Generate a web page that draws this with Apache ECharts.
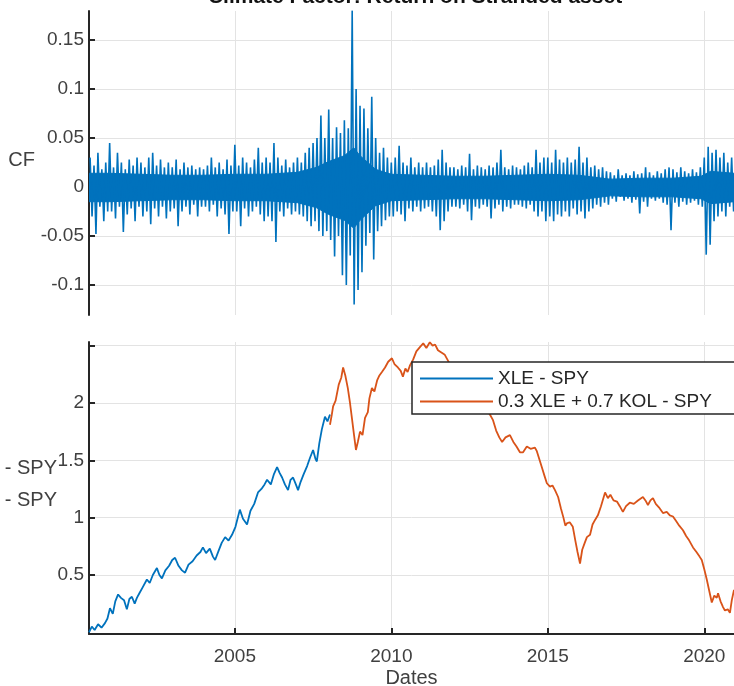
<!DOCTYPE html>
<html><head><meta charset="utf-8">
<script src="https://cdn.jsdelivr.net/npm/echarts@6/dist/echarts.min.js"></script>
<style>html,body{margin:0;padding:0;background:#fff}#c{width:734px;height:686px}</style>
</head><body><div id="c"></div>
<script>
// ---- Climate factor (CF) daily returns: high / low envelope per column ----
const cfStart = 2000.375;
const cfStep = 0.125;
const cfHigh = [
  0.03, 0.022, 0.035, 0.018, 0.025,
  0.045, 0.02, 0.035, 0.025, 0.018, 0.028, 0.022, 0.03,
  0.025, 0.02, 0.03, 0.035, 0.022, 0.028, 0.02, 0.025,
  0.02, 0.028, 0.018, 0.025, 0.02, 0.022, 0.018, 0.02,
  0.018, 0.022, 0.03, 0.02, 0.025, 0.018, 0.028, 0.022,
  0.043, 0.022, 0.03, 0.025, 0.02, 0.028, 0.04, 0.025,
  0.03, 0.025, 0.045, 0.03, 0.022, 0.028, 0.02, 0.025,
  0.03, 0.025, 0.035, 0.04, 0.045, 0.05, 0.073, 0.05,
  0.079, 0.05, 0.061, 0.055, 0.068, 0.06, 0.18, 0.1,
  0.083, 0.08, 0.06, 0.092, 0.05, 0.035, 0.04, 0.03,
  0.025, 0.03, 0.042, 0.025, 0.022, 0.03, 0.02, 0.025,
  0.02, 0.025, 0.02, 0.022, 0.028, 0.038, 0.025, 0.02,
  0.02, 0.018, 0.022, 0.02, 0.034, 0.018, 0.022, 0.02,
  0.018, 0.022, 0.02, 0.025, 0.038, 0.02, 0.018, 0.022,
  0.02, 0.018, 0.022, 0.025, 0.02, 0.038, 0.025, 0.03,
  0.03, 0.025, 0.038, 0.028, 0.025, 0.03, 0.025, 0.028,
  0.041, 0.025, 0.03, 0.02, 0.022, 0.018, 0.02, 0.016,
  0.015, 0.012, 0.018, 0.012, 0.014, 0.012, 0.016, 0.013,
  0.014, 0.02, 0.015, 0.012, 0.016, 0.014, 0.018, 0.02,
  0.018, 0.015, 0.02, 0.016, 0.014, 0.018, 0.015, 0.02,
  0.03, 0.041, 0.035, 0.038, 0.03, 0.035, 0.025, 0.03
];
const cfLow = [
  -0.03, -0.048, -0.02, -0.035, -0.025,
  -0.025, -0.032, -0.02, -0.046, -0.028, -0.022, -0.035, -0.02,
  -0.03, -0.025, -0.038, -0.022, -0.03, -0.02, -0.032, -0.025,
  -0.022, -0.04, -0.025, -0.02, -0.028, -0.018, -0.03, -0.02,
  -0.02, -0.025, -0.018, -0.03, -0.022, -0.028, -0.048, -0.025,
  -0.025, -0.04, -0.022, -0.03, -0.025, -0.02, -0.028, -0.035,
  -0.03, -0.035, -0.056, -0.025, -0.03, -0.022, -0.028, -0.025,
  -0.028, -0.03, -0.035, -0.04, -0.035, -0.045, -0.05, -0.045,
  -0.054, -0.071, -0.05, -0.09, -0.1, -0.07, -0.12, -0.105,
  -0.087, -0.06, -0.047, -0.074, -0.045, -0.04, -0.034, -0.03,
  -0.03, -0.025, -0.028, -0.035, -0.022, -0.025, -0.02, -0.025,
  -0.022, -0.02, -0.025, -0.03, -0.044, -0.035, -0.025, -0.02,
  -0.02, -0.022, -0.018, -0.025, -0.034, -0.02, -0.022, -0.018,
  -0.02, -0.032, -0.022, -0.018, -0.025, -0.02, -0.022, -0.018,
  -0.018, -0.02, -0.022, -0.018, -0.025, -0.03, -0.025, -0.035,
  -0.03, -0.035, -0.028, -0.03, -0.025, -0.03, -0.022, -0.028,
  -0.025, -0.032, -0.025, -0.022, -0.018, -0.02, -0.016, -0.018,
  -0.012, -0.015, -0.01, -0.014, -0.012, -0.016, -0.013, -0.027,
  -0.015, -0.02, -0.012, -0.014, -0.012, -0.016, -0.018, -0.044,
  -0.016, -0.02, -0.015, -0.018, -0.016, -0.014, -0.018, -0.02,
  -0.069, -0.059, -0.035, -0.03, -0.025, -0.03, -0.02, -0.025
];
// dense core of the band (upper / lower edge), read per period
const cfCoreYears = [2000.34,2001,2002,2003,2004,2005,2006,2007,2007.6,2008,2008.5,2008.8,2009,2009.5,2010,2011,2012,2013,2014,2015,2016,2017,2018,2019,2019.9,2020.2,2020.95];
const cfCoreUp    = [0.014,0.014,0.013,0.012,0.012,0.013,0.013,0.015,0.02,0.026,0.032,0.04,0.032,0.018,0.013,0.012,0.011,0.011,0.012,0.013,0.012,0.008,0.009,0.009,0.011,0.016,0.014];
const cfCoreDown  = [-0.015,-0.015,-0.014,-0.013,-0.013,-0.014,-0.014,-0.016,-0.021,-0.028,-0.034,-0.042,-0.034,-0.019,-0.014,-0.013,-0.012,-0.012,-0.013,-0.014,-0.013,-0.009,-0.01,-0.01,-0.012,-0.017,-0.015];

// ---- Cumulative returns ----
const xleDates = [2000.34,2000.43,2000.52,2000.63,2000.74,2000.85,2000.93,2001.01,2001.10,2001.18,2001.27,2001.36,2001.46,2001.55,2001.63,2001.71,2001.80,2001.87,2001.95,2002.05,2002.19,2002.28,2002.38,2002.51,2002.59,2002.67,2002.78,2002.90,2003.00,2003.09,2003.20,2003.31,2003.41,2003.52,2003.65,2003.78,2003.90,2003.98,2004.08,2004.20,2004.30,2004.37,2004.48,2004.58,2004.69,2004.80,2004.91,2005.02,2005.16,2005.26,2005.39,2005.50,2005.62,2005.74,2005.85,2005.95,2006.03,2006.15,2006.25,2006.35,2006.43,2006.51,2006.60,2006.70,2006.78,2006.86,2006.95,2007.02,2007.10,2007.20,2007.31,2007.40,2007.50,2007.58,2007.62,2007.70,2007.78,2007.88,2007.96,2008.04];
const xleValues = [0.0,0.05,0.02,0.07,0.04,0.08,0.12,0.21,0.16,0.27,0.33,0.3,0.28,0.2,0.29,0.31,0.25,0.3,0.34,0.39,0.46,0.43,0.5,0.56,0.5,0.47,0.54,0.58,0.63,0.65,0.58,0.54,0.52,0.59,0.62,0.67,0.7,0.74,0.69,0.73,0.66,0.63,0.71,0.78,0.83,0.8,0.85,0.92,1.07,0.99,0.94,1.06,1.12,1.22,1.25,1.29,1.33,1.29,1.38,1.44,1.39,1.35,1.29,1.24,1.33,1.35,1.29,1.24,1.31,1.38,1.45,1.52,1.59,1.51,1.49,1.65,1.77,1.88,1.84,1.9];
const kolDates = [2008.04,2008.10,2008.14,2008.22,2008.32,2008.40,2008.46,2008.53,2008.61,2008.68,2008.74,2008.80,2008.87,2008.93,2009.00,2009.08,2009.16,2009.25,2009.30,2009.38,2009.46,2009.55,2009.62,2009.70,2009.80,2009.90,2010.02,2010.10,2010.21,2010.30,2010.37,2010.45,2010.52,2010.60,2010.70,2010.80,2010.92,2011.02,2011.12,2011.23,2011.32,2011.40,2011.49,2011.60,2011.71,2011.85,2012.00,2012.15,2012.30,2012.45,2012.60,2012.75,2012.90,2013.05,2013.15,2013.25,2013.35,2013.45,2013.54,2013.65,2013.79,2013.90,2014.00,2014.11,2014.21,2014.33,2014.45,2014.59,2014.65,2014.74,2014.81,2014.90,2014.97,2015.07,2015.15,2015.23,2015.33,2015.42,2015.50,2015.56,2015.61,2015.70,2015.80,2015.88,2015.95,2016.03,2016.10,2016.18,2016.25,2016.35,2016.43,2016.51,2016.60,2016.70,2016.83,2016.92,2017.00,2017.10,2017.21,2017.30,2017.40,2017.50,2017.62,2017.75,2017.88,2018.04,2018.12,2018.20,2018.28,2018.36,2018.45,2018.55,2018.68,2018.80,2018.90,2019.00,2019.10,2019.20,2019.32,2019.42,2019.52,2019.64,2019.75,2019.85,2019.92,2020.00,2020.08,2020.16,2020.24,2020.32,2020.40,2020.44,2020.52,2020.60,2020.66,2020.75,2020.82,2020.88,2020.95];
const kolValues = [1.81,1.9,1.97,2.02,2.16,2.22,2.31,2.24,2.13,2.0,1.87,1.74,1.59,1.66,1.75,1.72,1.87,1.92,2.04,2.13,2.1,2.2,2.24,2.27,2.31,2.36,2.39,2.34,2.31,2.28,2.23,2.3,2.27,2.33,2.38,2.45,2.49,2.52,2.48,2.53,2.5,2.51,2.46,2.44,2.42,2.35,2.3,2.22,2.18,2.12,2.05,2.0,1.96,1.93,1.9,1.85,1.76,1.7,1.66,1.7,1.72,1.66,1.62,1.57,1.57,1.62,1.6,1.61,1.58,1.5,1.44,1.36,1.3,1.27,1.28,1.24,1.18,1.08,1.0,0.93,0.95,0.96,0.92,0.8,0.7,0.6,0.72,0.78,0.83,0.85,0.94,0.98,1.02,1.1,1.22,1.17,1.2,1.15,1.14,1.1,1.05,1.1,1.13,1.12,1.15,1.18,1.15,1.11,1.15,1.17,1.12,1.09,1.04,1.05,1.02,1.01,0.97,0.93,0.89,0.84,0.8,0.74,0.7,0.66,0.63,0.55,0.46,0.36,0.26,0.32,0.3,0.34,0.27,0.22,0.19,0.2,0.17,0.28,0.37];

// ---- Tick labels ----
const yearTicks = [2005, 2010, 2015, 2020];
const cfTicks = [-0.1, -0.05, 0, 0.05, 0.1, 0.15];
const cumTicks = [0.5, 1, 1.5, 2, 2.5];
const cumLabels = [0.5, 1, 1.5, 2];

const seriesNames = ['XLE - SPY', '0.3 XLE + 0.7 KOL - SPY'];
const titleText = 'Climate Factor: Return on Stranded asset';

const FF = "'Liberation Sans Narrow','Liberation Sans',Arial,sans-serif";
const AX = '#262626';
const GRIDC = '#e3e3e3';
const LBL = '#404040';
const BLUE = '#0072BD', ORANGE = '#D95319';

const cfData = [];
for (let i = 0; i < cfHigh.length; i++) {
  cfData.push([cfStart + i * cfStep, cfHigh[i]]);
  cfData.push([cfStart + i * cfStep + cfStep / 2, cfLow[i]]);
}
const coreUpData = cfCoreYears.map((d, i) => [d, cfCoreUp[i]]);
const coreDownData = cfCoreYears.map((d, i) => [d, cfCoreDown[i]]);
const xleData = xleDates.map((d, i) => [d, xleValues[i]]);
const kolData = kolDates.map((d, i) => [d, kolValues[i]]);

const xMin = 2000.34, xMax = 2020.95;
const yearFmt = v => String(Math.round(v));

const coreSeries = (name, data) => ({
  type: 'line', name, xAxisIndex: 0, yAxisIndex: 0, data,
  showSymbol: false, symbol: 'none', silent: true,
  lineStyle: {color: BLUE, width: 1},
  areaStyle: {color: BLUE, opacity: 1, origin: 0}
});

const chart = echarts.init(document.getElementById('c'), null, {renderer: 'canvas'});
chart.setOption({
  animation: false,
  backgroundColor: '#fff',
  grid: [
    {left: 89, right: 0, top: 11, height: 304, outerBoundsMode: 'none', containLabel: false},
    {left: 89, right: 0, top: 342, height: 292, outerBoundsMode: 'none', containLabel: false}
  ],
  xAxis: [
    {type: 'value', gridIndex: 0, min: xMin, max: xMax,
     axisLine: {show: false}, axisLabel: {show: false},
     axisTick: {show: false, customValues: yearTicks},
     splitLine: {show: true, lineStyle: {color: GRIDC, width: 1}}},
    {type: 'value', gridIndex: 1, min: xMin, max: xMax,
     axisLine: {show: true, onZero: false, lineStyle: {color: AX, width: 2}},
     axisTick: {show: true, inside: true, length: 6, customValues: yearTicks, lineStyle: {color: AX, width: 2}},
     axisLabel: {show: true, customValues: yearTicks, formatter: yearFmt, margin: 13, fontSize: 19, fontFamily: FF, color: LBL},
     splitLine: {show: true, lineStyle: {color: GRIDC, width: 1}},
     name: 'Dates', nameLocation: 'middle', nameGap: 34,
     nameTextStyle: {fontSize: 20, fontFamily: FF, color: LBL}}
  ],
  yAxis: [
    {type: 'value', gridIndex: 0, min: -0.1306, max: 0.1796,
     axisLine: {show: true, onZero: false, lineStyle: {color: AX, width: 2}},
     axisTick: {show: true, inside: true, length: 6, customValues: cfTicks, lineStyle: {color: AX, width: 2}},
     axisLabel: {show: true, customValues: cfTicks, margin: 5, fontSize: 19, fontFamily: FF, color: LBL},
     splitLine: {show: true, lineStyle: {color: GRIDC, width: 1}}},
    {type: 'value', gridIndex: 1, min: -0.015, max: 2.532,
     axisLine: {show: true, onZero: false, lineStyle: {color: AX, width: 2}},
     axisTick: {show: true, inside: true, length: 6, customValues: cumTicks, lineStyle: {color: AX, width: 2}},
     axisLabel: {show: true, customValues: cumLabels, margin: 5, fontSize: 19, fontFamily: FF, color: LBL},
     splitLine: {show: true, lineStyle: {color: GRIDC, width: 1}}}
  ],
  legend: {
    data: seriesNames,
    orient: 'vertical', left: 412, top: 362,
    icon: 'rect', itemWidth: 73, itemHeight: 2, itemGap: 4,
    padding: [7, 60, 3, 8],
    backgroundColor: '#fff', borderColor: AX, borderWidth: 1.5, borderRadius: 0,
    textStyle: {fontSize: 19, lineHeight: 18, fontFamily: FF, color: '#262626'}
  },
  series: [
    coreSeries('CFcoreUp', coreUpData),
    coreSeries('CFcoreDown', coreDownData),
    {type: 'line', name: 'CF', xAxisIndex: 0, yAxisIndex: 0, data: cfData,
     showSymbol: false, symbol: 'none', lineStyle: {color: BLUE, width: 1.6}, itemStyle: {color: BLUE}},
    {type: 'line', name: seriesNames[0], xAxisIndex: 1, yAxisIndex: 1, data: xleData,
     showSymbol: false, symbol: 'none', lineStyle: {color: BLUE, width: 1.8}, itemStyle: {color: BLUE}},
    {type: 'line', name: seriesNames[1], xAxisIndex: 1, yAxisIndex: 1, data: kolData,
     showSymbol: false, symbol: 'none', lineStyle: {color: ORANGE, width: 1.8}, itemStyle: {color: ORANGE}}
  ],
  graphic: [
    {type: 'text', x: 415, y: -3, style: {text: titleText, fill: '#111', font: 'bold 21px ' + FF, textAlign: 'center', textVerticalAlign: 'middle'}},
    {type: 'text', x: 35, y: 160, style: {text: 'CF', fill: LBL, font: '20px ' + FF, textAlign: 'right', textVerticalAlign: 'middle'}},
    {type: 'text', x: 57, y: 468, style: {text: '- SPY', fill: LBL, font: '20px ' + FF, textAlign: 'right', textVerticalAlign: 'middle'}},
    {type: 'text', x: 57, y: 500, style: {text: '- SPY', fill: LBL, font: '20px ' + FF, textAlign: 'right', textVerticalAlign: 'middle'}}
  ]
});
</script>
</body></html>
